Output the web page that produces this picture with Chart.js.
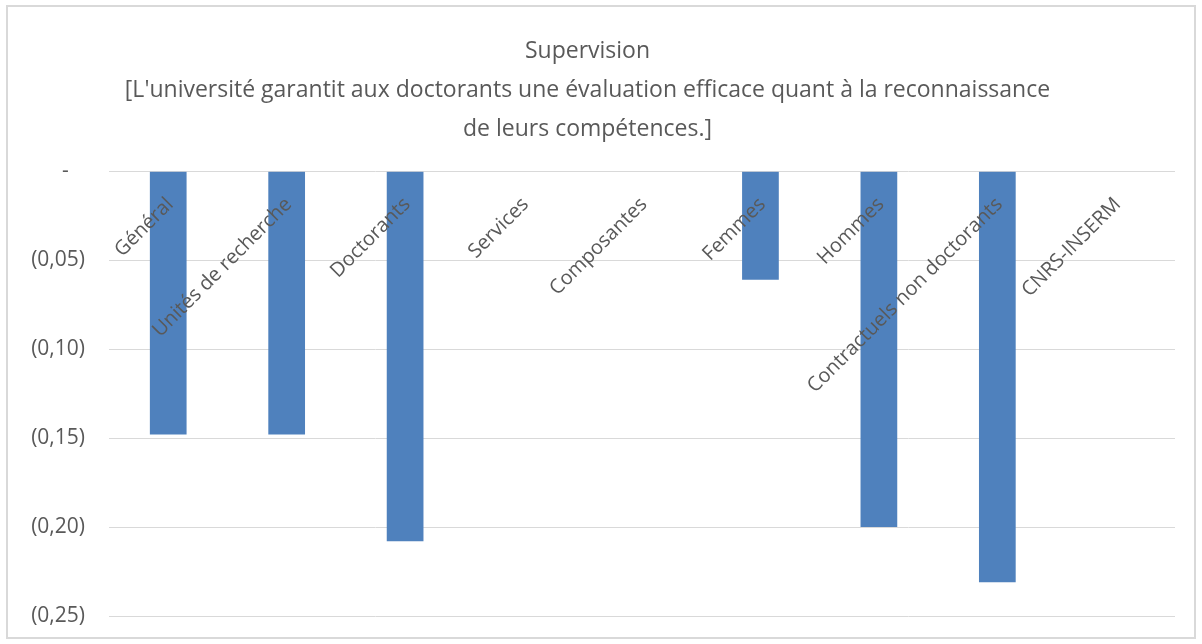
<!DOCTYPE html>
<html>
<head>
<meta charset="utf-8">
<script src="https://cdn.jsdelivr.net/npm/chart.js@4/dist/chart.umd.min.js"></script>
<style>
  html, body { margin: 0; padding: 0; background: #fff; }
  #wrap { position: absolute; left: 0; top: 0; width: 1202px; height: 644px; }
  #frame { position: absolute; left: 6px; top: 5px; width: 1186px; height: 630px;
           border: 2px solid #d9d9d9; pointer-events: none; }
</style>
</head>
<body>
<div id="wrap">
  <canvas id="chart" width="1202" height="644"></canvas>
  <div id="frame"></div>
</div>
<script>
const categories = ["Général", "Unités de recherche", "Doctorants", "Services", "Composantes",
                    "Femmes", "Hommes", "Contractuels non doctorants", "CNRS-INSERM"];
const values = [-0.148, -0.148, -0.208, 0, 0, -0.061, -0.2, -0.231, 0];
const titleLines = ["Supervision",
  "[L'université garantit aux doctorants une évaluation efficace quant à la reconnaissance",
  "de leurs compétences.]"];

const textColor = "#595959";
const fontFamily = "'Open Sans', 'Noto Sans', sans-serif";

// format façon Excel comptabilité : (0,05) et "-" pour zéro
function formatTick(v) {
    if (Math.abs(v) < 1e-9) return "-   ";
    return "(" + Math.abs(v).toFixed(2).replace(".", ",") + ")";
}

// étiquettes de catégories inclinées, sous l'axe du zéro
const categoryLabels = {
    id: "categoryLabels",
    afterDatasetsDraw(chart) {
        const ctx = chart.ctx;
        const x = chart.scales.x;
        const y = chart.scales.y;
        const y0 = y.getPixelForValue(0);
        ctx.save();
        ctx.font = "20px " + fontFamily;
        ctx.fillStyle = textColor;
        ctx.textAlign = "right";
        ctx.textBaseline = "middle";
        categories.forEach(function(label, i) {
            const px = x.getPixelForValue(i);
            ctx.save();
            ctx.translate(px + 2, y0 + 30);
            ctx.rotate(-Math.PI / 4);
            ctx.fillText(label, 0, 0);
            ctx.restore();
        });
        ctx.restore();
    }
};

const ctx = document.getElementById("chart").getContext("2d");
const chart = new Chart(ctx, {
    type: "bar",
    data: {
        labels: categories,
        datasets: [{
            data: values,
            backgroundColor: "#4f81bd",
            borderWidth: 0,
            categoryPercentage: 1,
            barPercentage: 0.31
        }]
    },
    options: {
        responsive: false,
        animation: false,
        layout: { padding: { left: 0, right: 27, bottom: 28, top: 0 } },
        scales: {
            x: { display: false },
            y: {
                min: -0.25,
                max: 0,
                afterFit: function(scale) { scale.width = 109; },
                ticks: {
                    stepSize: 0.05,
                    padding: 4,
                    color: textColor,
                    font: { size: 21, family: fontFamily },
                    callback: function(value) { return formatTick(value); }
                },
                grid: { color: "#d9d9d9", lineWidth: 1, drawTicks: true, tickLength: 20, tickColor: "rgba(0,0,0,0)" },
                border: { display: false }
            }
        },
        plugins: {
            legend: { display: false },
            tooltip: { enabled: false },
            title: {
                display: true,
                text: titleLines,
                color: textColor,
                font: { size: 23, family: fontFamily, weight: "normal", lineHeight: 1.7 },
                padding: { top: 32, bottom: 22 }
            }
        }
    },
    plugins: [categoryLabels]
});
</script>
</body>
</html>
